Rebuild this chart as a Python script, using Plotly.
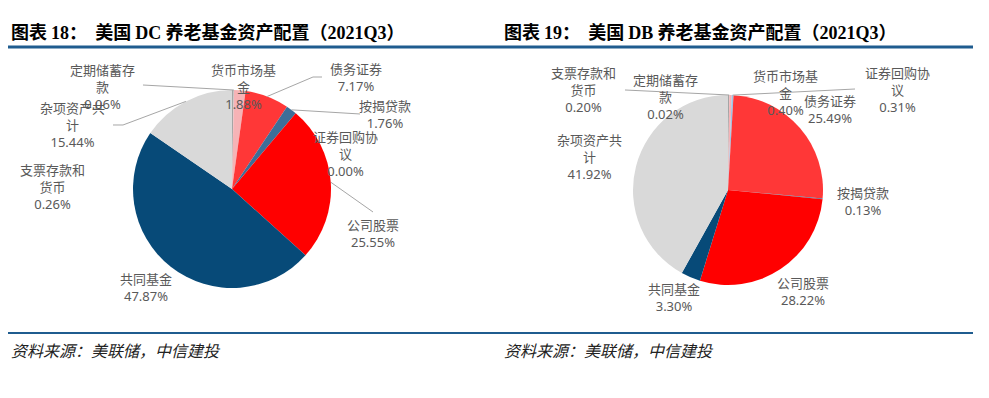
import math
import plotly.graph_objects as go

# ---------------- data ----------------
categories = ["支票存款和货币", "定期储蓄存款", "货币市场基金", "证券回购协议",
              "债务证券", "按揭贷款", "公司股票", "共同基金", "杂项资产共计"]
dc_values = [0.26, 0.06, 1.88, 0.00, 7.17, 1.76, 25.55, 47.87, 15.44]
db_values = [0.20, 0.02, 0.40, 0.31, 25.49, 0.13, 28.22, 3.30, 41.92]
slice_colors = ["#A5A5A5", "#BFBFBF", "#F6B3B6", "#9DC3E6", "#FF3737",
                "#3D6E98", "#FF0000", "#074A78", "#D9D9D9"]

title_dc = ("图表 ", "18", "：  美国 ", "DC", " 养老基金资产配置（", "2021Q3", "）")
title_db = ("图表 ", "19", "：  美国 ", "DB", " 养老基金资产配置（", "2021Q3", "）")
source_text = "资料来源：美联储，中信建投"

# ---------------- layout helpers ----------------
W, H = 989, 398
LABEL_COLOR = "#595959"
LEADER_COLOR = "#A6A6A6"
BLUE = "#1F5C8F"


def px(x):
    return x / W


def py(y):
    return 1 - y / H


def wrap(name, n=5):
    parts = [name[i:i + n] for i in range(0, len(name), n)]
    return "<br>".join(parts)


charts = [
    dict(values=dc_values, title=title_dc, cx=232, cy=189, r=99,
         labels={
             "支票存款和货币": (52, 187),
             "定期储蓄存款": (102, 87),
             "货币市场基金": (243, 87),
             "证券回购协议": (345, 154),
             "债务证券": (356, 78),
             "按揭贷款": (385, 114),
             "公司股票": (373, 233),
             "共同基金": (146, 287),
             "杂项资产共计": (72, 125),
         },
         leaders={
             "定期储蓄存款": [(143, 85)],
             "债务证券": [(322, 77), (313, 77)],
             "按揭贷款": [(360, 114)],
             "公司股票": [(373, 212)],
             "杂项资产共计": [(113, 125), (123, 125)],
         }),
    dict(values=db_values, title=title_db, cx=728, cy=190, r=95,
         labels={
             "支票存款和货币": (583, 90),
             "定期储蓄存款": (665, 97),
             "货币市场基金": (785, 93),
             "证券回购协议": (897, 90),
             "债务证券": (830, 110),
             "按揭贷款": (863, 201),
             "公司股票": (803, 291),
             "共同基金": (674, 297),
             "杂项资产共计": (589, 157),
         },
         leaders={
             "定期储蓄存款": [(625, 90)],
             "证券回购协议": [(855, 89)],
         }),
]

fig = go.Figure()
annotations = []
shapes = []

for k, ch in enumerate(charts):
    cx, cy, r = ch["cx"], ch["cy"], ch["r"]
    fig.add_trace(go.Pie(
        labels=categories, values=ch["values"], sort=False,
        direction="clockwise", rotation=0,
        marker=dict(colors=slice_colors, line=dict(width=0)),
        textinfo="none", hoverinfo="label+percent", showlegend=False,
        domain=dict(x=[px(cx - r), px(cx + r)], y=[py(cy + r), py(cy - r)]),
    ))
    total = sum(ch["values"])
    cum = 0.0
    for name, v in zip(categories, ch["values"]):
        mid = (cum + v / 2) / total * 2 * math.pi
        cum += v
        lx, ly = ch["labels"][name]
        annotations.append(dict(
            x=px(lx), y=py(ly), xref="paper", yref="paper",
            xanchor="center", yanchor="middle", showarrow=False,
            text=f"{wrap(name)}<br>{v:.2f}%", align="center",
            font=dict(family="Noto Sans, Noto Sans CJK SC", size=13, color=LABEL_COLOR),
        ))
        if name in ch["leaders"]:
            tip = (cx + r * math.sin(mid), cy - r * math.cos(mid))
            pts = ch["leaders"][name] + [tip]
            path = "M " + " L ".join(f"{px(a):.5f},{py(b):.5f}" for a, b in pts)
            shapes.append(dict(type="path", path=path, xref="paper", yref="paper",
                               line=dict(color=LEADER_COLOR, width=1)))

    # title
    t = ch["title"]
    serif = '<span style="font-family:Liberation Serif">'
    html = ("<b>" + t[0] + serif + t[1] + "</span>" + t[2] + serif + t[3] + "</span>"
            + t[4] + serif + t[5] + "</span>" + t[6] + "</b>")
    tx = 9 if k == 0 else 502
    annotations.append(dict(
        x=px(tx), y=py(31), xref="paper", yref="paper", xanchor="left", yanchor="middle",
        showarrow=False, text=html,
        font=dict(family="Noto Sans CJK SC", size=18, color="#000000"),
    ))
    annotations.append(dict(
        x=px(tx), y=py(350), xref="paper", yref="paper", xanchor="left", yanchor="middle",
        showarrow=False, text="<i>" + source_text + "</i>",
        font=dict(family="Noto Sans CJK SC", size=16, color="#222222"),
    ))

# blue rules
shapes.append(dict(type="line", xref="paper", yref="paper", x0=px(8), x1=px(973),
                   y0=py(47), y1=py(47), line=dict(color=BLUE, width=3)))
shapes.append(dict(type="line", xref="paper", yref="paper", x0=px(8), x1=px(973),
                   y0=py(333), y1=py(333), line=dict(color=BLUE, width=2)))

fig.update_layout(
    width=W, height=H, margin=dict(l=0, r=0, t=0, b=0),
    paper_bgcolor="white", plot_bgcolor="white",
    annotations=annotations, shapes=shapes,
)

fig.write_html("out.html", config={"displayModeBar": False},
               post_script="document.body.style.margin='0';document.body.style.overflow='hidden';")
